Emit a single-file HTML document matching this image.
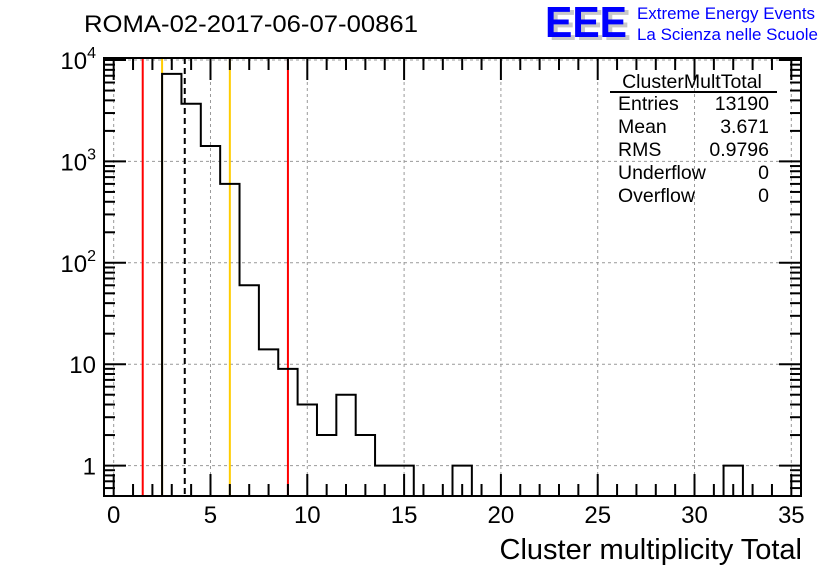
<!DOCTYPE html>
<html><head><meta charset="utf-8"><style>
body{margin:0;background:#fff;}
svg{display:block;font-family:"Liberation Sans",sans-serif;}
</style></head><body>
<svg id="c" width="836" height="572">
<text x="84" y="32" font-size="24" textLength="334" lengthAdjust="spacingAndGlyphs">ROMA-02-2017-06-07-00861</text>
<g>
<text x="549" y="40" font-size="44" font-weight="bold" fill="#c8c8c8" textLength="82" lengthAdjust="spacingAndGlyphs">EEE</text>
<text x="545" y="37" font-size="44" font-weight="bold" fill="#0000ff" textLength="82" lengthAdjust="spacingAndGlyphs">EEE</text>
<text x="637" y="19" font-size="16.5" fill="#0000ff" textLength="178" lengthAdjust="spacingAndGlyphs">Extreme Energy Events</text>
<text x="637" y="40" font-size="16.5" fill="#0000ff" textLength="181" lengthAdjust="spacingAndGlyphs">La Scienza nelle Scuole</text>
</g>
<g id="grid"></g><g id="marks"></g><g id="axes"></g>
<g font-size="19.5">
<text x="692" y="88" text-anchor="middle">ClusterMultTotal</text>
<line x1="610" y1="92" x2="777" y2="92" stroke="#000" stroke-width="2"/>
<text x="618" y="110">Entries</text><text x="769" y="110" text-anchor="end">13190</text>
<text x="618" y="133">Mean</text><text x="769" y="133" text-anchor="end">3.671</text>
<text x="618" y="156">RMS</text><text x="769" y="156" text-anchor="end">0.9796</text>
<text x="618" y="179">Underflow</text><text x="769" y="179" text-anchor="end">0</text>
<text x="618" y="202">Overflow</text><text x="769" y="202" text-anchor="end">0</text>
</g>
<text x="802" y="559" font-size="29" text-anchor="end">Cluster multiplicity Total</text>
</svg>
<script>
const binCenters=[0,1,2,3,4,5,6,7,8,9,10,11,12,13,14,15,16,17,18,19,20,21,22,23,24,25,26,27,28,29,30,31,32,33,34,35];
const binCounts=[0,0,0,7300,3700,1420,600,60,14,9,4,2,5,2,1,1,0,0,1,0,0,0,0,0,0,0,0,0,0,0,0,0,1,0,0,0];
const xTicks=[0,5,10,15,20,25,30,35];
const yTicks=[1,10,100,1000,10000];
const yTickLabels=["1","10","10^2","10^3","10^4"];
const redLines=[1.5,9];
const orangeLines=[2.5,6];
const meanLine=[3.671];
const X0=104,X1=801,Y0=496,Y1=58,xmin=-0.5,xmax=35.5,lmin=-0.3,lmax=4.02;
const sx=v=>X0+(v-xmin)/(xmax-xmin)*(X1-X0);
const sy=v=>Y0-(Math.log10(v)-lmin)/(lmax-lmin)*(Y0-Y1);
const NS="http://www.w3.org/2000/svg";
function mk(p,t,a){const e=document.createElementNS(NS,t);for(const k in a)e.setAttribute(k,a[k]);p.appendChild(e);return e;}
const grid=document.getElementById('grid'),marks=document.getElementById('marks'),axes=document.getElementById('axes');
xTicks.forEach(t=>{const l=mk(grid,'line',{x1:sx(t),x2:sx(t),y1:Y1,y2:Y0,stroke:'#999','stroke-dasharray':'3,3','stroke-width':1});
});
yTicks.forEach(t=>{const l=mk(grid,'line',{x1:X0,x2:X1,y1:sy(t),y2:sy(t),stroke:'#999','stroke-dasharray':'3,3','stroke-width':1});
});
function vline(v,col,dash,name){const l=mk(marks,'line',{x1:sx(v),x2:sx(v),y1:Y1,y2:Y0,stroke:col,'stroke-width':2});if(dash)l.setAttribute('stroke-dasharray',dash);
}
orangeLines.forEach(v=>vline(v,'#ffcc00',null,'orange-cut-line'));
redLines.forEach(v=>vline(v,'#ff0000',null,'red-cut-line'));
let d='';let started=false;
binCenters.forEach((c,i)=>{const v=binCounts[i];const y=v>0?sy(v):Y0;const xa=sx(c-0.5),xb=sx(c+0.5);
if(!started){d+=`M${xa},${Y0} `;started=true;}d+=`L${xa},${y} L${xb},${y} `;});
d+=`L${sx(35.5)},${Y0}`;
const h=mk(marks,'path',{d:d,fill:'none',stroke:'#000','stroke-width':2});

meanLine.forEach(v=>vline(v,'#000',"6,4",'mean-line'));
const fr=mk(axes,'rect',{x:X0,y:Y1,width:X1-X0,height:Y0-Y1,fill:'none',stroke:'#000','stroke-width':2});

for(let v=0;v<=35.01;v+=1){const maj=v%5===0;const len=maj?22:12;
mk(axes,'line',{x1:sx(v),x2:sx(v),y1:Y0,y2:Y0-len,stroke:'#000','stroke-width':2});
mk(axes,'line',{x1:sx(v),x2:sx(v),y1:Y1,y2:Y1+len,stroke:'#000','stroke-width':2});}
xTicks.forEach(t=>{const e=mk(axes,'text',{x:sx(t),y:523,'font-size':24,'text-anchor':'middle'});e.textContent=t;
});
for(let dd=-1;dd<=4;dd++){for(let m=1;m<10;m++){const v=m*Math.pow(10,dd);const lg=Math.log10(v);if(lg<lmin||lg>lmax)continue;
const len=m===1?22:11;mk(axes,'line',{x1:X0,x2:X0+len,y1:sy(v),y2:sy(v),stroke:'#000','stroke-width':2});
mk(axes,'line',{x1:X1,x2:X1-len,y1:sy(v),y2:sy(v),stroke:'#000','stroke-width':2});}}
yTicks.forEach((t,i)=>{const lab=yTickLabels[i];const e=mk(axes,'text',{x:96,y:sy(t)+9,'font-size':24,'text-anchor':'end'});
if(lab.indexOf('^')>0){const p=lab.split('^');e.textContent=p[0];const s=mk(e,'tspan',{dy:-11,'font-size':16});s.textContent=p[1];}else e.textContent=lab;
});
</script>
</body></html>
